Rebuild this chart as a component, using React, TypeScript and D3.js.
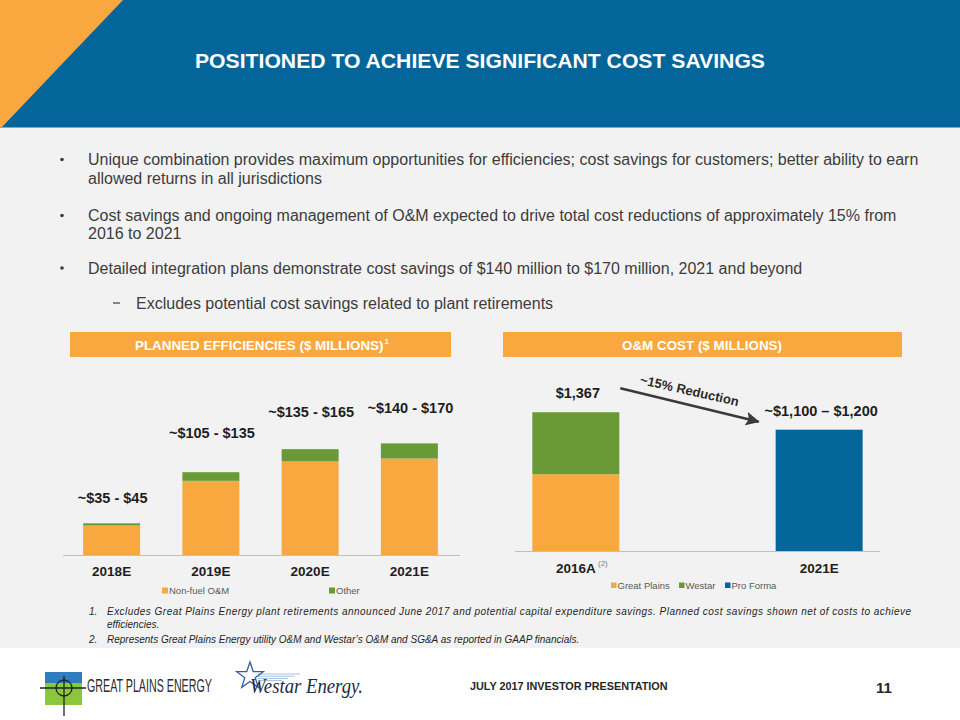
import React from "react";
import * as d3 from "d3";

// ---------- data ----------
const effCategories = ["2018E", "2019E", "2020E", "2021E"];
const effNonFuel = [41, 103, 130, 134];
const effOther = [3, 12, 17, 21];
const effRangeLabels = ["~$35 - $45", "~$105 - $135", "~$135 - $165", "~$140 - $170"];
const effRangeHigh = [45, 135, 165, 170];
const effSeries = ["Non-fuel O&M", "Other"];

const omCategories = ["2016A", "", "2021E"];
const omGreatPlains = [756, 0, 0];
const omWestar = [611, 0, 0];
const omProForma = [0, 0, 1195];
const omTotalLabels = ["$1,367", "", "~$1,100 – $1,200"];
const omSeries = ["Great Plains", "Westar", "Pro Forma"];

const bullets = [
  ["Unique combination provides maximum opportunities for efficiencies; cost savings for customers; better ability to earn", "allowed returns in all jurisdictions"],
  ["Cost savings and ongoing management of O&M expected to drive total cost reductions of approximately 15% from", "2016 to 2021"],
  ["Detailed integration plans demonstrate cost savings of $140 million to $170 million, 2021 and beyond"],
];
const subBullet = "Excludes potential cost savings related to plant retirements";

const footnote1 = [
  "Excludes Great Plains Energy plant retirements announced June 2017 and potential capital expenditure savings. Planned cost savings shown net of costs to achieve",
  "efficiencies.",
];
const footnote2 = "Represents Great Plains Energy utility O&M and Westar’s O&M and SG&A as reported in GAAP financials.";

// ---------- styles ----------
const ORANGE = "#F9A840";
const GREEN = "#6A9A35";
const BLUE = "#03659A";
const BG = "#F2F2F2";
const TXT = "#1E1E1E";
const SANS = "Arial, 'Liberation Sans', Helvetica, sans-serif";
const NARROW = "'Liberation Sans Narrow', 'Arial Narrow', 'Liberation Sans', Arial, sans-serif";

export default function App() {
  // Planned efficiencies chart
  const xE = d3.scaleBand<string>().domain(effCategories).range([62, 459]).paddingInner(0.426).paddingOuter(0.213);
  const yE = d3.scaleLinear().domain([0, 200]).range([555, 411]);
  const effRows = effCategories.map((c, i) => ({ cat: c, nonFuel: effNonFuel[i], other: effOther[i] }));
  const effStack = d3.stack<any>().keys(["nonFuel", "other"])(effRows);
  const effColors = [ORANGE, GREEN];

  // O&M chart
  const xO = d3.scaleBand<string>().domain(omCategories).range([515, 880]).paddingInner(0.285).paddingOuter(0.1425);
  const yO = d3.scaleLinear().domain([0, 1600]).range([551, 388.6]);
  const omRows = omCategories.map((c, i) => ({ cat: c, gp: omGreatPlains[i], ws: omWestar[i], pf: omProForma[i] }));
  const omStack = d3.stack<any>().keys(["gp", "ws", "pf"])(omRows);
  const omColors = [ORANGE, GREEN, BLUE];
  const omTotals = omRows.map((r) => r.gp + r.ws + r.pf);

  // arrow between the two O&M bars
  const a0 = [(xO("2016A") as number) + xO.bandwidth() + 1, yO(omTotals[0]) - 24];
  const a1 = [(xO("2021E") as number) - 17, yO(omTotals[2]) - 8];
  const ang = (Math.atan2(a1[1] - a0[1], a1[0] - a0[0]) * 180) / Math.PI;
  const mid = [(a0[0] + a1[0]) / 2, (a0[1] + a1[1]) / 2];

  const bulletLineYs = [[165, 183.5], [221, 239], [273.5]];

  // star polygon for Westar logo
  const star = d3.range(10).map((k) => {
    const r = k % 2 === 0 ? 14 : 5.5;
    const a = -Math.PI / 2 + (k * Math.PI) / 5;
    return [250 + r * Math.cos(a), 676 + r * Math.sin(a)];
  });

  return (
    <svg width={960} height={720} style={{ position: "absolute", left: 0, top: 0, background: "#fff" }} fontFamily={SANS}>
      <defs>
        <marker id="arrowHead" markerUnits="userSpaceOnUse" markerWidth={16} markerHeight={14} refX={13} refY={7} orient="auto">
          <path d="M0,0 L14,7 L0,14 L3,7 Z" fill="#3A3A3A" />
        </marker>
      </defs>

      {/* header */}
      <rect x={0} y={0} width={960} height={128} fill={BLUE} />
      <polygon points="0,0 123,0 2,127 0,127" fill={ORANGE} />
      <line x1={0} x2={960} y1={127.5} y2={127.5} stroke="#7FA9C9" strokeWidth={1} />
      <text x={480} y={68} textAnchor="middle" fill="#fff" fontFamily={NARROW} fontWeight="bold" fontSize={21}
        textLength={570} lengthAdjust="spacingAndGlyphs">
        POSITIONED TO ACHIEVE SIGNIFICANT COST SAVINGS
      </text>

      {/* content background */}
      <rect x={0} y={128} width={960} height={520} fill={BG} />

      {/* bullets */}
      <g fill="#3C3C3C" fontSize={16}>
        {bullets.map((lines, i) => (
          <g key={i}>
            <circle cx={62} cy={bulletLineYs[i][0] - 5.5} r={1.8} fill="#3C3C3C" />
            {lines.map((ln, j) => (
              <text key={j} x={88} y={bulletLineYs[i][j]}>{ln}</text>
            ))}
          </g>
        ))}
        <line x1={113} x2={120} y1={303} y2={303} stroke="#3C3C3C" strokeWidth={1.2} />
        <text x={136} y={308.5}>{subBullet}</text>
      </g>

      {/* section headers */}
      <rect x={70} y={332} width={381} height={25} fill={ORANGE} />
      <rect x={503} y={332} width={399} height={25} fill={ORANGE} />
      <text x={135} y={349.5} fill="#fff" fontWeight="bold" fontSize={13.4}>
        PLANNED EFFICIENCIES ($ MILLIONS)
      </text>
      <text x={384.5} y={344} fill="#fff" fontWeight="bold" fontSize={8}>1</text>
      <text x={702} y={349.5} textAnchor="middle" fill="#fff" fontWeight="bold" fontSize={13.4}>
        O&amp;M COST ($ MILLIONS)
      </text>

      {/* planned efficiencies chart */}
      <g>
        {effStack.map((s, si) => (
          <g key={si} fill={effColors[si]}>
            {s.map((d: any, di: number) => (
              <rect key={di} x={xE(d.data.cat)} width={xE.bandwidth()} y={yE(d[1])} height={yE(d[0]) - yE(d[1])} />
            ))}
          </g>
        ))}
        <line x1={63} x2={460} y1={555.5} y2={555.5} stroke="#BFBFBF" strokeWidth={1} />
        {effCategories.map((c) => (
          <text key={c} x={(xE(c) as number) + xE.bandwidth() / 2} y={575.5} textAnchor="middle" fontWeight="bold" fontSize={13.5} fill={TXT}>{c}</text>
        ))}
        {effCategories.map((c, i) => (
          <text key={"l" + c} x={(xE(c) as number) + xE.bandwidth() / 2 + 1} y={yE(effRangeHigh[i]) - 19.5} textAnchor="middle" fontWeight="bold" fontSize={14.5} fill={TXT}>{effRangeLabels[i]}</text>
        ))}
        {/* legend */}
        {effSeries.map((s, i) => {
          const lx = [162, 329][i];
          return (
            <g key={s}>
              <rect x={lx} y={587.5} width={6} height={6} fill={effColors[i]} />
              <text x={lx + 7} y={593.5} fontSize={9.5} fill="#595959">{s}</text>
            </g>
          );
        })}
      </g>

      {/* O&M chart */}
      <g>
        {omStack.map((s, si) => (
          <g key={si} fill={omColors[si]}>
            {s.filter((d: any) => d[1] > d[0]).map((d: any, di: number) => (
              <rect key={di} x={xO(d.data.cat)} width={xO.bandwidth()} y={yO(d[1])} height={yO(d[0]) - yO(d[1])} />
            ))}
          </g>
        ))}
        <line x1={515} x2={880} y1={551.5} y2={551.5} stroke="#BFBFBF" strokeWidth={1} />
        {omCategories.filter((c) => c).map((c) => (
          <text key={c} x={(xO(c) as number) + xO.bandwidth() / 2} y={572.5} textAnchor="middle" fontWeight="bold" fontSize={13.5} fill={TXT}>{c}</text>
        ))}
        <text x={598} y={566} fontSize={8} fill="#808080">(2)</text>
        {omCategories.map((c, i) => c ? (
          <text key={"t" + c} x={(xO(c) as number) + xO.bandwidth() / 2 + 2} y={yO(omTotals[i]) - 14} textAnchor="middle" fontWeight="bold" fontSize={14.5} fill={TXT}>{omTotalLabels[i]}</text>
        ) : null)}
        <line x1={a0[0]} y1={a0[1]} x2={a1[0]} y2={a1[1]} stroke="#3A3A3A" strokeWidth={2.6} markerEnd="url(#arrowHead)" />
        <text transform={`translate(${mid[0] - 1},${mid[1] - 10}) rotate(${ang - 0.8})`} textAnchor="middle" fontWeight="bold" fontSize={13} fill="#2A2A2A">~15% Reduction</text>
        {omSeries.map((s, i) => {
          const lx = [611, 679, 725][i];
          return (
            <g key={s}>
              <rect x={lx} y={582.5} width={5.5} height={5.5} fill={omColors[i]} />
              <text x={lx + 6.5} y={588.5} fontSize={9.5} fill="#595959">{s}</text>
            </g>
          );
        })}
      </g>

      {/* footnotes */}
      <g fontSize={10} fontStyle="italic" fill="#262626">
        <text x={89} y={615}>1.</text>
        <text x={107} y={615} textLength={804} lengthAdjust="spacing">{footnote1[0]}</text>
        <text x={107} y={628}>{footnote1[1]}</text>
        <text x={89} y={642.5}>2.</text>
        <text x={107} y={642.5}>{footnote2}</text>
      </g>

      {/* footer logos */}
      <g>
        <rect x={45} y={672} width={37} height={11} fill="#2E7DBF" />
        <rect x={45} y={683} width={37} height={22} fill="#8CC63F" />
        <circle cx={64} cy={688} r={8} fill="none" stroke="#222" strokeWidth={1.3} />
        <line x1={40} x2={86} y1={688} y2={688} stroke="#222" strokeWidth={1.3} />
        <line x1={64} x2={64} y1={676} y2={716} stroke="#222" strokeWidth={1.3} />
        <text transform="translate(87,692) scale(1,1.65)" fontSize={10.7} fill="#2B2B2B">GREAT PLAINS ENERGY</text>
      </g>
      <g>
        {[0, 1, 2, 3].map((k) => (
          <line key={k} x1={258} x2={300 - k * 6} y1={674 + k * 2.2} y2={674 + k * 2.2} stroke="#8FB0DA" strokeWidth={0.8} />
        ))}
        <polygon points={star.map((p) => p.join(",")).join(" ")} fill="none" stroke="#2F5FA5" strokeWidth={1.3} />
        <text x={250} y={693} fontFamily="'Liberation Serif', 'Times New Roman', serif" fontStyle="italic" fontSize={20} fill="#1F2A44" textLength={113} lengthAdjust="spacingAndGlyphs">Westar Energy.</text>
      </g>
      <text transform="translate(470,690) scale(0.94,1)" fontWeight="bold" fontSize={11.5} fill="#262626">JULY 2017 INVESTOR PRESENTATION</text>
      <text x={884} y={692.5} textAnchor="middle" fontWeight="bold" fontSize={15} fill="#262626">11</text>
    </svg>
  );
}
